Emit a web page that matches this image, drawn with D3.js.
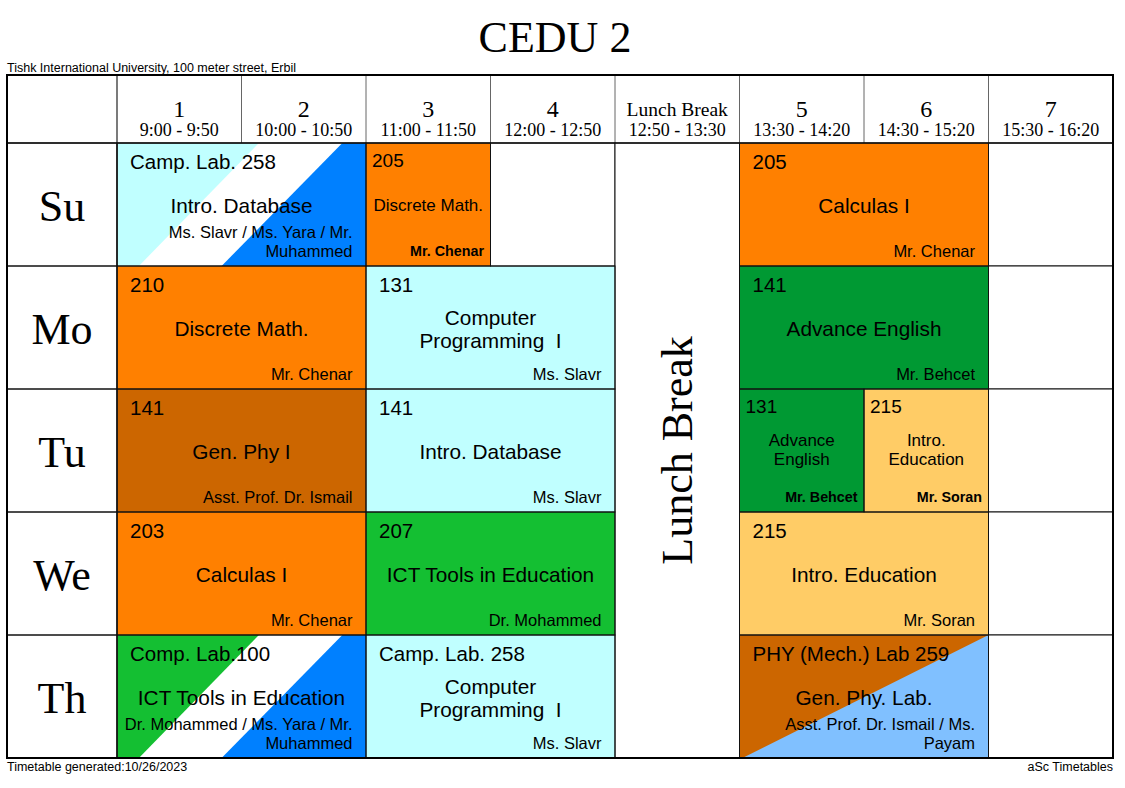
<!DOCTYPE html>
<html>
<head>
<meta charset="utf-8">
<script src="https://cdn.jsdelivr.net/npm/d3@7"></script>
<style>
  html, body { margin: 0; padding: 0; background: #fff; }
  svg text { white-space: pre; }
</style>
</head>
<body>
<svg id="chart" width="1125" height="788"></svg>
<script>
// ---------------- DATA ----------------
const title = "CEDU 2";
const schoolLine = "Tishk International University, 100 meter street, Erbil";
const footerLeft = "Timetable generated:10/26/2023";
const footerRight = "aSc Timetables";

const days = ["Su", "Mo", "Tu", "We", "Th"];
const periods = ["1", "2", "3", "4", "Lunch Break", "5", "6", "7"];
const periodTimes = ["9:00 - 9:50", "10:00 - 10:50", "11:00 - 11:50", "12:00 - 12:50",
                     "12:50 - 13:30", "13:30 - 14:20", "14:30 - 15:20", "15:30 - 16:20"];
const lunchLabel = "Lunch Break";

// lessons: day, first period, number of periods, room, subject, teacher, split group
const lessons = [
  { day: "Su", from: "1", span: 2, room: "Camp. Lab. 258", subject: "Intro. Database", teacher: "Ms. Slavr / Ms. Yara / Mr.\nMuhammed", split: "groups" },
  { day: "Su", from: "3", span: 1, room: "205", subject: "Discrete Math.", teacher: "Mr. Chenar", split: null },
  { day: "Su", from: "5", span: 2, room: "205", subject: "Calculas I", teacher: "Mr. Chenar", split: null },
  { day: "Mo", from: "1", span: 2, room: "210", subject: "Discrete Math.", teacher: "Mr. Chenar", split: null },
  { day: "Mo", from: "3", span: 2, room: "131", subject: "Computer\nProgramming  I", teacher: "Ms. Slavr", split: null },
  { day: "Mo", from: "5", span: 2, room: "141", subject: "Advance English", teacher: "Mr. Behcet", split: null },
  { day: "Tu", from: "1", span: 2, room: "141", subject: "Gen. Phy I", teacher: "Asst. Prof. Dr. Ismail", split: null },
  { day: "Tu", from: "3", span: 2, room: "141", subject: "Intro. Database", teacher: "Ms. Slavr", split: null },
  { day: "Tu", from: "5", span: 1, room: "131", subject: "Advance\nEnglish", teacher: "Mr. Behcet", split: null },
  { day: "Tu", from: "6", span: 1, room: "215", subject: "Intro.\nEducation", teacher: "Mr. Soran", split: null },
  { day: "We", from: "1", span: 2, room: "203", subject: "Calculas I", teacher: "Mr. Chenar", split: null },
  { day: "We", from: "3", span: 2, room: "207", subject: "ICT Tools in Education", teacher: "Dr. Mohammed", split: null },
  { day: "We", from: "5", span: 2, room: "215", subject: "Intro. Education", teacher: "Mr. Soran", split: null },
  { day: "Th", from: "1", span: 2, room: "Comp. Lab.100", subject: "ICT Tools in Education", teacher: "Dr. Mohammed / Ms. Yara / Mr.\nMuhammed", split: "groups" },
  { day: "Th", from: "3", span: 2, room: "Camp. Lab. 258", subject: "Computer\nProgramming  I", teacher: "Ms. Slavr", split: null },
  { day: "Th", from: "5", span: 2, room: "PHY (Mech.) Lab 259", subject: "Gen. Phy. Lab.", teacher: "Asst. Prof. Dr. Ismail / Ms.\nPayam", split: "pair" }
];

// ---------------- STYLE ----------------
const subjectKeys = ["Intro. Database", "Computer Programming  I", "Discrete Math.", "Calculas I",
  "Advance English", "Gen. Phy I", "Gen. Phy. Lab.", "ICT Tools in Education", "Intro. Education"];
const subjectColor = d3.scaleOrdinal()
  .domain(subjectKeys)
  .range(["#c0ffff", "#c0ffff", "#ff8000", "#ff8000", "#009933", "#cc6600", "#cc6600", "#14bf32", "#ffcc66"]);
const splitColor = d3.scaleOrdinal().domain(["groups", "pair"]).range(["#0080ff", "#80c0ff"]);

const SERIF = "'Liberation Serif', 'Times New Roman', serif";
const SANS = "'Liberation Sans', Arial, sans-serif";

// ---------------- LAYOUT ----------------
const svg = d3.select("#chart");
const gridLeft = 7, gridRight = 1113, gridTop = 75, headBottom = 143, gridBottom = 758, dayColRight = 117;

const x = d3.scaleLinear().domain([0, periods.length]).range([dayColRight, gridRight]);
const y = d3.scaleBand().domain(days).range([headBottom, gridBottom]);
const pIdx = p => periods.indexOf(p);
const lunchIdx = pIdx(lunchLabel);

const gFill = svg.append("g");
const gGrid = svg.append("g");
const gText = svg.append("g");

// title & header texts
svg.append("text").attr("x", 555).attr("y", 52).attr("text-anchor", "middle")
  .attr("font-family", SERIF).attr("font-size", 44).text(title);
svg.append("text").attr("x", gridLeft).attr("y", 72)
  .attr("font-family", SANS).attr("font-size", 12.5).text(schoolLine);
svg.append("text").attr("x", gridLeft).attr("y", 770.5)
  .attr("font-family", SANS).attr("font-size", 12.5).text(footerLeft);
svg.append("text").attr("x", gridRight).attr("y", 770.5).attr("text-anchor", "end")
  .attr("font-family", SANS).attr("font-size", 12.5).text(footerRight);

// header cells
periods.forEach((p, i) => {
  const cx = (x(i) + x(i + 1)) / 2;
  const isLunch = i === lunchIdx;
  gText.append("text").attr("x", cx).attr("y", isLunch ? 116 : 117)
    .attr("text-anchor", "middle").attr("font-family", SERIF)
    .attr("font-size", isLunch ? 19.5 : 24).text(p);
  gText.append("text").attr("x", cx).attr("y", 135.5)
    .attr("text-anchor", "middle").attr("font-family", SERIF)
    .attr("font-size", 18).text(periodTimes[i]);
  if (i > 0) {
    gGrid.append("line").attr("x1", x(i)).attr("x2", x(i)).attr("y1", gridTop).attr("y2", headBottom)
      .attr("stroke", "#666").attr("stroke-width", 1);
  }
});
gGrid.append("line").attr("x1", dayColRight).attr("x2", dayColRight).attr("y1", gridTop).attr("y2", gridBottom)
  .attr("stroke", "#222").attr("stroke-width", 1.2);

// day label cells
days.forEach(d => {
  gGrid.append("rect").attr("x", gridLeft).attr("y", y(d)).attr("width", dayColRight - gridLeft)
    .attr("height", y.bandwidth()).attr("fill", "none").attr("stroke", "#111").attr("stroke-width", 1);
  gText.append("text").attr("x", 62).attr("y", y(d) + y.bandwidth() / 2 + 16)
    .attr("text-anchor", "middle").attr("font-family", SERIF).attr("font-size", 44).text(d);
});

// empty cells (non-lunch)
days.forEach(d => {
  periods.forEach((p, i) => {
    if (i === lunchIdx) return;
    const taken = lessons.some(l => l.day === d && i >= pIdx(l.from) && i < pIdx(l.from) + l.span);
    if (!taken) {
      gGrid.append("rect").attr("x", x(i)).attr("y", y(d)).attr("width", x(i + 1) - x(i))
        .attr("height", y.bandwidth()).attr("fill", "#fff").attr("stroke", "#111").attr("stroke-width", 1);
    }
  });
});

// lunch column
gGrid.append("rect").attr("x", x(lunchIdx)).attr("y", headBottom)
  .attr("width", x(lunchIdx + 1) - x(lunchIdx)).attr("height", gridBottom - headBottom)
  .attr("fill", "#fff").attr("stroke", "#111").attr("stroke-width", 1);
gText.append("text")
  .attr("transform", `translate(${(x(lunchIdx) + x(lunchIdx + 1)) / 2 + 15},${(headBottom + gridBottom) / 2}) rotate(-90)`)
  .attr("text-anchor", "middle").attr("font-family", SERIF).attr("font-size", 44).text(lunchLabel);

// lessons
lessons.forEach(l => {
  const i0 = pIdx(l.from);
  const x0 = x(i0), x1 = x(i0 + l.span), y0 = y(l.day), h = y.bandwidth(), w = x1 - x0;
  const key = l.subject.replace("\n", " ");
  const base = subjectColor(key);
  const pt = (fx, fy) => [x0 + fx * w, y0 + fy * h].join(",");

  if (l.split === "groups") {
    gFill.append("rect").attr("x", x0).attr("y", y0).attr("width", w).attr("height", h).attr("fill", "#fff");
    gFill.append("polygon").attr("points", [pt(0, 0), pt(0.57, 0), pt(0.088, 1), pt(0, 1)].join(" "))
      .attr("fill", base);
    gFill.append("polygon").attr("points", [pt(0.905, 0), pt(1, 0), pt(1, 1), pt(0.42, 1)].join(" "))
      .attr("fill", splitColor(l.split));
  } else if (l.split === "pair") {
    gFill.append("rect").attr("x", x0).attr("y", y0).attr("width", w).attr("height", h).attr("fill", splitColor(l.split));
    gFill.append("polygon").attr("points", [pt(0, 0), pt(1, 0), pt(0.012, 1), pt(0, 1)].join(" "))
      .attr("fill", base);
  } else {
    gFill.append("rect").attr("x", x0).attr("y", y0).attr("width", w).attr("height", h).attr("fill", base);
  }
  gGrid.append("rect").attr("x", x0).attr("y", y0).attr("width", w).attr("height", h)
    .attr("fill", "none").attr("stroke", "#111").attr("stroke-width", 1);

  const wide = l.span > 1;
  const pad = wide ? 13 : 6;
  // room
  gText.append("text").attr("x", x0 + pad).attr("y", y0 + (wide ? 18 : 17))
    .attr("dominant-baseline", "central").attr("font-family", SANS)
    .attr("font-size", wide ? 20.5 : 19).text(l.room);
  // subject
  const sLines = l.subject.split("\n");
  const sSize = wide ? 20.8 : 17, sLh = wide ? 23 : 19;
  const sMid = wide ? 62.5 : (sLines.length > 1 ? 60.5 : 62);
  sLines.forEach((t, k) => {
    gText.append("text").attr("x", (x0 + x1) / 2)
      .attr("y", y0 + sMid + (k - (sLines.length - 1) / 2) * sLh)
      .attr("dominant-baseline", "central").attr("text-anchor", "middle")
      .attr("font-family", SANS).attr("font-size", sSize).text(t);
  });
  // teacher
  const tLines = l.teacher.split("\n");
  const tSize = wide ? 16.5 : 14.3, tLh = 19;
  tLines.forEach((t, k) => {
    gText.append("text").attr("x", x1 - (wide ? 13.5 : 6.5))
      .attr("y", y0 + (wide ? 108 : 107.5) - (tLines.length - 1 - k) * tLh)
      .attr("dominant-baseline", "central").attr("text-anchor", "end")
      .attr("font-family", SANS).attr("font-size", tSize)
      .attr("font-weight", wide ? "normal" : "bold").text(t);
  });
});

// outer border & header separator
gGrid.append("line").attr("x1", gridLeft).attr("x2", gridRight).attr("y1", headBottom).attr("y2", headBottom)
  .attr("stroke", "#111").attr("stroke-width", 1.6);
gGrid.append("rect").attr("x", gridLeft).attr("y", gridTop).attr("width", gridRight - gridLeft).attr("height", gridBottom - gridTop)
  .attr("fill", "none").attr("stroke", "#000").attr("stroke-width", 2);
</script>
</body>
</html>
